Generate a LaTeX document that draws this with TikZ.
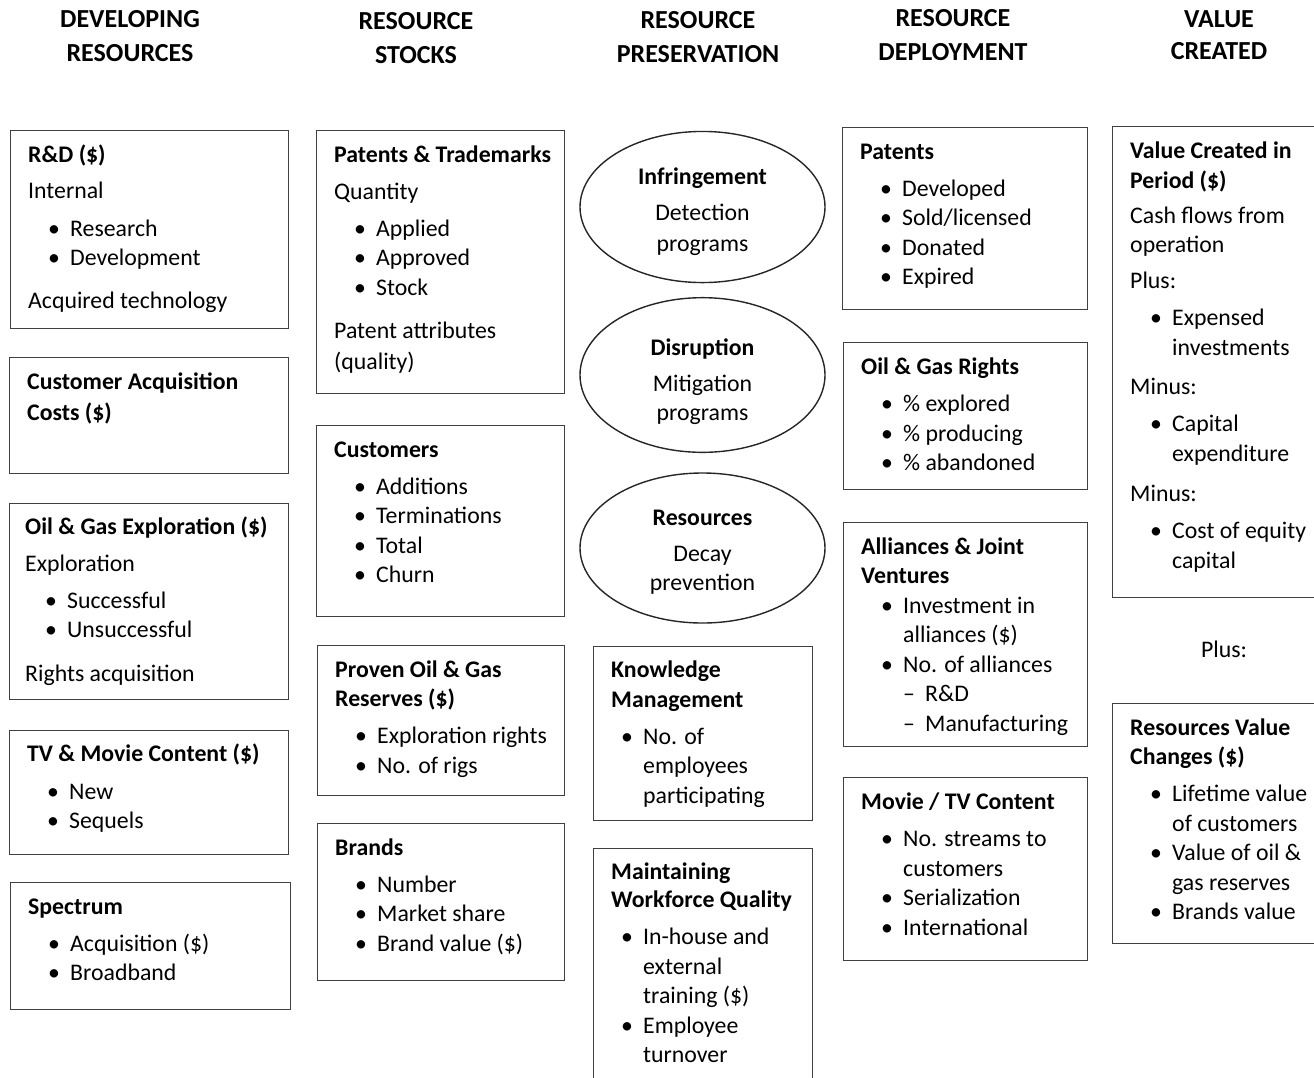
\documentclass[tikz,border=0pt]{standalone}
\usepackage{fontspec}
\setmainfont{Carlito}
\usetikzlibrary{shapes.geometric, positioning}

% list lines: bullet, continuation, dash (normal and narrow indent)
\newcommand{\itm}[1]{\makebox[42pt][l]{\hspace{20pt}\textbullet}#1}
\newcommand{\cont}[1]{\makebox[42pt]{}#1}
\newcommand{\dsh}[1]{\makebox[64pt][l]{\hspace{42pt}\textendash}#1}
\newcommand{\itk}[1]{\makebox[32pt][l]{\hspace{10pt}\textbullet}#1}
\newcommand{\contk}[1]{\makebox[32pt]{}#1}

\begin{document}
\begin{tikzpicture}[x=1pt, y=-1pt,
    panel/.style={draw=black!75, line width=1.4pt, anchor=north west, inner sep=0pt},
    txt/.style={inner sep=0pt, align=left, font=\fontsize{23.8}{29.5}\selectfont},
    head/.style={inner sep=0pt, align=center, anchor=north, font=\fontsize{26}{34}\selectfont\bfseries},
    oval/.style={draw=black!85, ellipse, line width=1.4pt, minimum width=245pt, minimum height=148pt, inner sep=0pt, align=center, font=\fontsize{23.8}{29.5}\selectfont},
]
\useasboundingbox (0,0) rectangle (1314,1077);
\clip (0,0) rectangle (1314,1077);

% column headings
\node[head] (h1) at (130,3.5) {\strut DEVELOPING\\ RESOURCES};
\node[head] (h2) at (416,5.5) {\strut RESOURCE\\ STOCKS};
\node[head] (h3) at (698,4.5) {\strut RESOURCE\\ PRESERVATION};
\node[head] (h4) at (953,2.5) {\strut RESOURCE\\ DEPLOYMENT};
\node[head] (h5) at (1219,3.5) {\strut VALUE\\[-2pt] CREATED};

% developing resources
\node[panel, minimum width=278pt, minimum height=198pt] (rnd) at (10,130) {};
\node[txt, below right=11.5pt and 18pt of rnd.north west] (rndtxt) {\strut\textbf{R\&D (\$)}\\[7pt] Internal\\[8pt] \itm{Research}\\ \itm{Development}\\[13pt] Acquired technology};

\node[panel, minimum width=279pt, minimum height=116pt] (cac) at (9,357) {};
\node[txt, below right=11.5pt and 18pt of cac.north west] (cactxt) {\strut\textbf{Customer Acquisition}\\[1.5pt] \textbf{Costs (\$)}};

\node[panel, minimum width=279pt, minimum height=196pt] (oge) at (9,503) {};
\node[txt, below right=11pt and 16pt of oge.north west] (ogetxt) {\strut\textbf{Oil \& Gas Exploration (\$)}\\[7pt] Exploration\\[7.5pt] \itm{Successful}\\ \itm{Unsuccessful}\\[14pt] Rights acquisition};

\node[panel, minimum width=279pt, minimum height=124pt] (tvm) at (9,730) {};
\node[txt, below right=11pt and 18pt of tvm.north west] (tvmtxt) {\strut\textbf{TV \& Movie Content (\$)}\\[8pt] \itm{New}\\ \itm{Sequels}};

\node[panel, minimum width=280pt, minimum height=127pt] (spec) at (10,882) {};
\node[txt, below right=11.5pt and 18pt of spec.north west] (spectxt) {\strut\textbf{Spectrum}\\[7.5pt] \itm{Acquisition (\$)}\\ \itm{Broadband}};

% resource stocks
\node[panel, minimum width=248pt, minimum height=263pt] (pat) at (316,130) {};
\node[txt, below right=11.5pt and 18pt of pat.north west] (pattxt) {\strut\textbf{Patents \& Trademarks}\\[7.5pt] Quantity\\[7.5pt] \itm{Applied}\\ \itm{Approved}\\ \itm{Stock}\\[13.5pt] Patent attributes\\[1.5pt] (quality)};

\node[panel, minimum width=248pt, minimum height=191pt] (cust) at (316,425) {};
\node[txt, below right=11.5pt and 18pt of cust.north west] (custtxt) {\strut\textbf{Customers}\\[7.5pt] \itm{Additions}\\ \itm{Terminations}\\ \itm{Total}\\ \itm{Churn}};

\node[panel, minimum width=247pt, minimum height=150pt] (res) at (317,645) {};
\node[txt, below right=11.5pt and 18pt of res.north west] (restxt) {\strut\textbf{Proven Oil \& Gas}\\ \textbf{Reserves (\$)}\\[7.5pt] \itm{Exploration rights}\\ \itm{No. of rigs}};

\node[panel, minimum width=247pt, minimum height=157pt] (brd) at (317,823) {};
\node[txt, below right=11.5pt and 18pt of brd.north west] (brdtxt) {\strut\textbf{Brands}\\[7.5pt] \itm{Number}\\ \itm{Market share}\\ \itm{Brand value (\$)}};

% resource preservation
\node[oval] (infr) at (702.5,207) {\rule{0pt}{31pt}\textbf{Infringement}\\[6.5pt] Detection\\[1.5pt] programs\strut};
\node[oval, minimum height=150pt] (disr) at (702.5,375) {\rule{0pt}{35pt}\textbf{Disruption}\\[6.5pt] Mitigation\\ programs\strut};
\node[oval, minimum height=150pt] (decay) at (702.5,548) {\rule{0pt}{29pt}\textbf{Resources}\\[6.5pt] Decay\\ prevention\strut};

\node[panel, minimum width=219pt, minimum height=174pt] (know) at (593,646) {};
\node[txt, below right=11pt and 18pt of know.north west] (knowtxt) {\strut\textbf{Knowledge}\\ \textbf{Management}\\[7.5pt] \itk{No. of}\\ \contk{employees}\\ \contk{participating}};

\node[panel, minimum width=219pt, minimum height=250pt] (work) at (593,848) {};
\node[txt, below right=11pt and 18pt of work.north west] (worktxt) {\strut\textbf{Maintaining}\\[-1.5pt] \textbf{Workforce Quality}\\[7.5pt] \itk{In-house and}\\ \contk{external}\\ \contk{training (\$)}\\ \itk{Employee}\\ \contk{turnover}};

% resource deployment
\node[panel, minimum width=245pt, minimum height=182pt] (dpat) at (842,127) {};
\node[txt, below right=11.5pt and 18pt of dpat.north west] (dpattxt) {\strut\textbf{Patents}\\[7.5pt] \itm{Developed}\\ \itm{Sold/licensed}\\ \itm{Donated}\\ \itm{Expired}};

\node[panel, minimum width=244pt, minimum height=147pt] (ogr) at (843,342) {};
\node[txt, below right=11.5pt and 18pt of ogr.north west] (ogrtxt) {\strut\textbf{Oil \& Gas Rights}\\[8pt] \itm{\% explored}\\ \itm{\% producing}\\ \itm{\% abandoned}};

\node[panel, minimum width=244pt, minimum height=224pt] (ally) at (843,522) {};
\node[txt, below right=11.5pt and 18pt of ally.north west] (allytxt) {\strut\textbf{Alliances \& Joint}\\ \textbf{Ventures}\\ \itm{Investment in}\\ \cont{alliances (\$)}\\ \itm{No. of alliances}\\ \dsh{R\&D}\\ \dsh{Manufacturing}};

\node[panel, minimum width=244pt, minimum height=183pt] (mtv) at (843,777) {};
\node[txt, below right=11.5pt and 18pt of mtv.north west] (mtvtxt) {\strut\textbf{Movie / TV Content}\\[8pt] \itm{No. streams to}\\ \cont{customers}\\ \itm{Serialization}\\ \itm{International}};

% value created
\node[panel, minimum width=230pt, minimum height=471pt] (val) at (1112,126) {};
\node[txt, below right=12pt and 18pt of val.north west] (valtxt) {\strut\textbf{Value Created in}\\ \textbf{Period (\$)}\\[5.5pt] Cash flows from\\ operation\\[6pt] Plus:\\[8pt] \itm{Expensed}\\ \cont{investments}\\[9.5pt] Minus:\\[8pt] \itm{Capital}\\ \cont{expenditure}\\[10.5pt] Minus:\\[8pt] \itm{Cost of equity}\\ \cont{capital}};

\node[txt] (plus) at (1224,649) {Plus:};

\node[panel, minimum width=230pt, minimum height=240pt] (rvc) at (1112,703) {};
\node[txt, below right=11.5pt and 18pt of rvc.north west] (rvctxt) {\strut\textbf{Resources Value}\\ \textbf{Changes (\$)}\\[7.5pt] \itm{Lifetime value}\\ \cont{of customers}\\ \itm{Value of oil \&}\\ \cont{gas reserves}\\ \itm{Brands value}};

\end{tikzpicture}
\end{document}
